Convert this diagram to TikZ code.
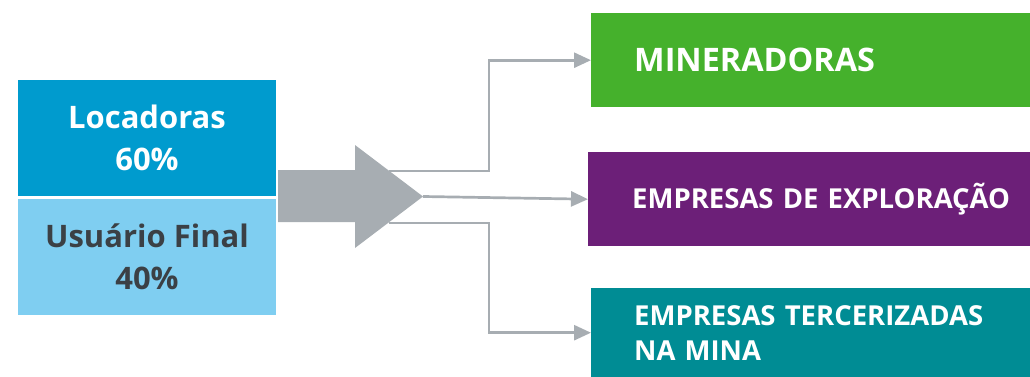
\documentclass[tikz,border=0pt]{standalone}
\usepackage{fontspec}
\setmainfont{Open Sans}
\usetikzlibrary{arrows.meta}
\definecolor{cLoc}{HTML}{009BCE}
\definecolor{cUsu}{HTML}{7FCEF1}
\definecolor{cUsuTxt}{HTML}{3B4045}
\definecolor{cMin}{HTML}{45B12C}
\definecolor{cExp}{HTML}{6C1F78}
\definecolor{cTer}{HTML}{008C94}
\definecolor{cGray}{HTML}{A7ADB2}
\begin{document}
\begin{tikzpicture}[x=1pt,y=-1pt,
  lbox/.style={inner sep=0pt, minimum width=258pt, minimum height=116pt,
    align=center, font=\bfseries\fontsize{31}{42}\selectfont},
  rbox/.style={anchor=north west, inner xsep=43pt, inner ysep=0pt,
    minimum height=94pt, align=left, text=white,
    font=\bfseries\fontsize{27.5}{35}\selectfont},
  conn/.style={draw=cGray, line width=2.7pt,
    -{Triangle[length=17pt,width=15pt]}}
]
\useasboundingbox (0,0) rectangle (1030,377);
% left boxes
\node[lbox, fill=cLoc, text=white] (loc) at (147,138) {Locadoras\\60\%};
\node[lbox, fill=cUsu, text=cUsuTxt] (usu) at (147,257) {Usuário Final\\40\%};
% big arrow
\fill[cGray] (278,170) -- (355,170) -- (355,145) -- (423,196.5) -- (355,248) -- (355,222) -- (278,222) -- cycle;
\coordinate (s1) at (389,171);
\coordinate (tip) at (423,196.5);
\coordinate (s3) at (389,223);
% right boxes
\node[rbox, fill=cMin, text width=353pt, font=\bfseries\fontsize{32.4}{40}\selectfont] (min) at (591,13) {\mbox{MINERADORAS}};
\node[rbox, fill=cExp, text width=354pt, inner xsep=44pt] (exp) at (588,152) {\mbox{EMPRESAS DE EXPLORAÇÃO}};
\node[rbox, fill=cTer, text width=353pt, minimum height=89pt] (ter) at (591,288) {\mbox{EMPRESAS TERCERIZADAS}\\NA MINA};
% connectors
\draw[conn] (s1) -- (489,171) |- (min.west);
\draw[conn] (tip) -- (exp.west);
\draw[conn] (s3) -- (489,223) |- (ter.west);
\end{tikzpicture}
\end{document}
